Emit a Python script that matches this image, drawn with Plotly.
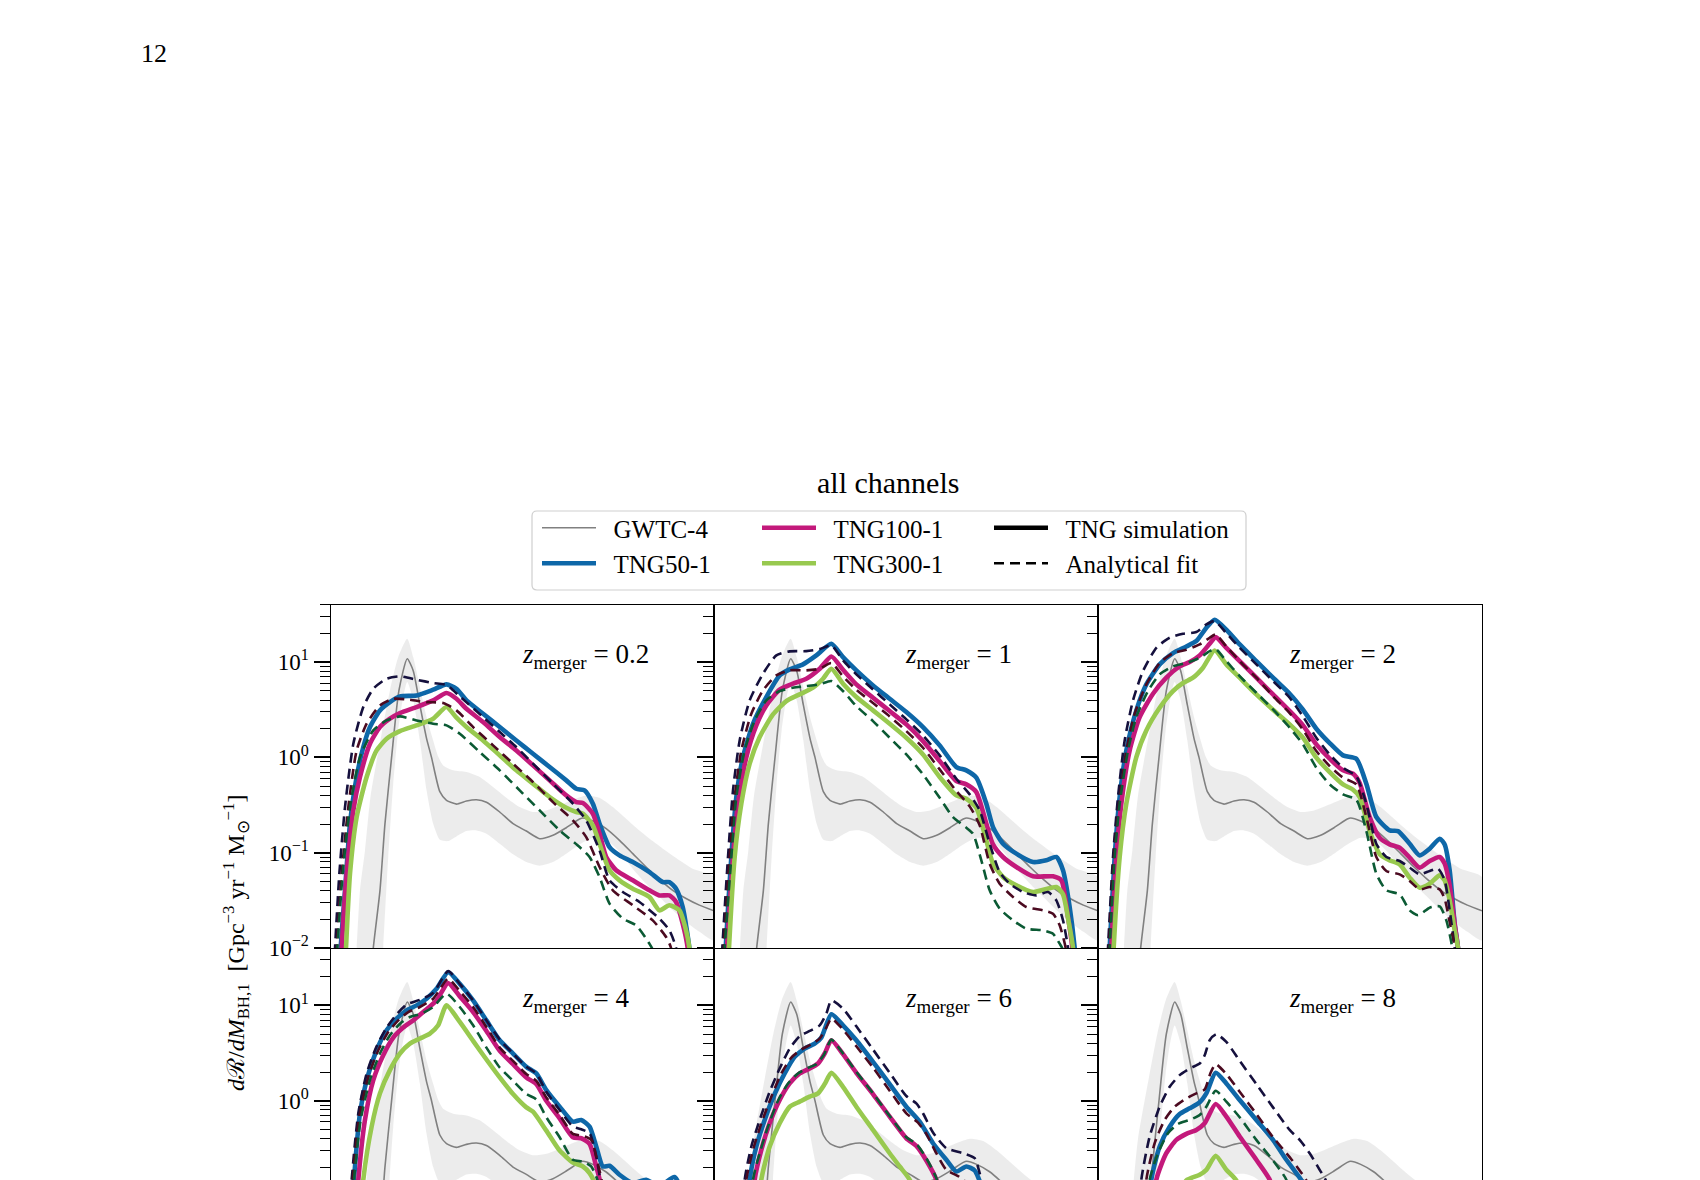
import plotly.graph_objects as go

W, H = 1700, 1180

# ------------------------------------------------------------------
# Data.  x: primary BH mass M_BH,1 [Msun]
# y: log10 of dR/dM_BH,1 [Gpc^-3 yr^-1 Msun^-1]
# ------------------------------------------------------------------
redshift_labels = ["0.2", "1", "2", "4", "6", "8"]
sim_names = ["TNG50-1", "TNG100-1", "TNG300-1"]

# GWTC-4 (same in every panel): median and 90% band
gwtc_m = [6.1, 6.4, 7.4, 8.15, 9.15, 10.25, 11.5, 12.4, 13.4, 14.4, 15.15, 16.4, 17.4, 18.9, 20.4, 21.9, 23.4,
          25.4, 27.4, 29.4, 31.4, 33.4, 35.4, 37.4, 37.9, 39.4, 41.4, 43.4, 45.4, 47.4, 49.4, 51.4, 53.4, 55.4, 57.6]
gwtc_lr = [-2.3, -2.0, -1.4, -0.7, 0.0, 0.7, 1.035, 0.91, 0.55, 0.2, 0.0, -0.36, -0.45, -0.49, -0.458, -0.444,
           -0.47, -0.573, -0.696, -0.773, -0.853, -0.818, -0.738, -0.647, -0.636, -0.668, -0.748, -0.871, -1.01,
           -1.15, -1.28, -1.395, -1.48, -1.55, -1.61]
gwtc_hi_m = [3.5, 3.9, 4.4, 5.15, 6.0, 7.65, 8.9, 10.15, 11.5, 12.4, 13.4, 14.4, 15.4, 16.15, 16.9, 18.4, 20.4,
             22.4, 24.4, 26.4, 28.4, 30.4, 32.4, 34.4, 36.4, 38.4, 40.4, 42.4, 44.4, 46.4, 48.4, 50.4, 52.4, 54.4, 57.6]
gwtc_hi_lr = [-2.5, -2.0, -1.395, -0.976, -0.40, 0.248, 0.703, 1.052, 1.245, 1.052, 0.738, 0.423, 0.178, 0.01,
              -0.084, -0.136, -0.154, -0.206, -0.311, -0.423, -0.521, -0.573, -0.556, -0.503, -0.444, -0.399,
              -0.423, -0.521, -0.643, -0.766, -0.878, -0.983, -1.08, -1.168, -1.255]
gwtc_lo_m = [7.6, 7.9, 8.65, 9.4, 10.15, 10.9, 11.5, 12.4, 13.4, 14.4, 15.4, 16.4, 17.65, 18.9, 20.4, 21.9, 23.4,
             25.4, 27.4, 29.4, 31.4, 33.4, 35.4, 37.4, 39.4, 41.4, 43.4, 45.4, 47.4, 49.4, 51.4, 53.4, 55.4, 57.6]
gwtc_lo_lr = [-2.5, -2.0, -1.045, -0.276, 0.283, 0.633, 0.79, 0.6, 0.178, -0.346, -0.696, -0.864, -0.878, -0.829,
              -0.773, -0.766, -0.80, -0.906, -1.017, -1.098, -1.136, -1.098, -1.01, -0.913, -0.843, -0.864, -0.99,
              -1.17, -1.325, -1.465, -1.605, -1.727, -1.83, -1.92]

# ---- z_merger = 0.2 ----
m_z02_tng50 = [1.3, 1.5, 2.15, 2.9, 3.9, 4.9, 5.9, 7.4, 8.9, 10.4, 12.9, 15.4, 17.4, 18.9, 20.4, 22.9, 25.4, 27.9,
               30.4, 32.9, 35.4, 36.9, 38.15, 39.4, 40.4, 41.9, 43.4, 45.4, 47.9, 49.9, 50.9, 51.9, 52.9, 53.9, 54.4]
lr_z02_tng50 = [-2.4, -2.0, -1.395, -0.696, -0.206, 0.108, 0.318, 0.493, 0.580, 0.640, 0.650, 0.710, 0.766, 0.720,
                0.598, 0.458, 0.318, 0.178, 0.038, -0.101, -0.241, -0.329, -0.346, -0.486, -0.696, -0.941, -1.028,
                -1.098, -1.203, -1.308, -1.308, -1.378, -1.570, -2.0, -2.5]
m_z02_tng100 = [1.4, 1.65, 2.4, 3.4, 4.4, 5.9, 7.4, 8.9, 10.4, 12.9, 15.4, 17.4, 18.9, 20.4, 22.9, 25.4, 27.9, 30.4,
                32.9, 35.4, 36.9, 37.9, 39.4, 40.4, 41.4, 42.9, 45.4, 47.9, 49.4, 50.9, 51.9, 52.9, 53.65, 54.15]
lr_z02_tng100 = [-2.4, -2.0, -1.220, -0.556, -0.206, 0.143, 0.318, 0.406, 0.465, 0.528, 0.598, 0.675, 0.615, 0.510,
                 0.371, 0.213, 0.073, -0.084, -0.241, -0.399, -0.469, -0.479, -0.591, -0.801, -1.045, -1.185, -1.290,
                 -1.395, -1.448, -1.448, -1.517, -1.745, -2.0, -2.5]
m_z02_tng300 = [2.05, 2.3, 2.9, 3.9, 5.4, 6.9, 8.4, 10.4, 12.9, 15.4, 17.4, 18.9, 20.4, 22.9, 25.4, 27.9, 30.4, 32.9,
                35.4, 36.9, 37.9, 39.4, 40.4, 41.9, 43.4, 45.4, 47.9, 49.4, 50.9, 52.4, 53.4, 53.9, 54.4]
lr_z02_tng300 = [-2.4, -2.0, -1.220, -0.626, -0.206, 0.073, 0.196, 0.276, 0.336, 0.406, 0.528, 0.416, 0.318, 0.178,
                 0.021, -0.136, -0.276, -0.416, -0.528, -0.573, -0.591, -0.713, -0.906, -1.185, -1.290, -1.378,
                 -1.465, -1.605, -1.552, -1.605, -1.815, -2.0, -2.5]
m_z02_fit50 = [0.4, 0.65, 1.3, 2.15, 3.4, 4.9, 6.4, 8.4, 10.4, 12.9, 15.4, 17.4, 19.4, 22.9, 25.4, 27.9, 30.4, 33.4,
               36.4, 38.4, 40.4, 41.9, 43.9, 46.4, 49.4, 50.9, 51.9, 52.4]
lr_z02_fit50 = [-2.4, -2.0, -1.22, -0.521, 0.143, 0.528, 0.720, 0.825, 0.850, 0.815, 0.780, 0.759, 0.640, 0.423,
                0.266, 0.108, -0.066, -0.276, -0.486, -0.661, -0.976, -1.290, -1.413, -1.517, -1.692, -1.815, -2.0,
                -2.4]
m_z02_fit100 = [0.65, 0.9, 1.65, 2.65, 3.9, 5.4, 7.4, 9.4, 11.9, 14.4, 16.9, 18.9, 21.4, 24.4, 27.4, 30.4, 33.4,
                36.4, 38.4, 40.4, 42.4, 45.4, 48.4, 50.4, 51.15, 51.65]
lr_z02_fit100 = [-2.4, -2.0, -1.22, -0.521, 0.073, 0.353, 0.545, 0.615, 0.605, 0.580, 0.570, 0.493, 0.318, 0.126,
                 -0.066, -0.259, -0.469, -0.661, -0.836, -1.150, -1.395, -1.552, -1.710, -1.885, -2.0, -2.4]
m_z02_fit300 = [0.75, 1.0, 1.8, 2.9, 4.4, 6.4, 8.4, 10.4, 12.9, 15.4, 17.4, 19.4, 22.4, 25.4, 28.4, 31.4, 34.4,
                37.4, 38.9, 40.4, 41.9, 43.9, 45.9, 47.9, 48.4, 49.0]
lr_z02_fit300 = [-2.4, -2.0, -1.22, -0.521, 0.003, 0.283, 0.388, 0.430, 0.388, 0.353, 0.336, 0.248, 0.056, -0.136,
                 -0.346, -0.556, -0.766, -0.941, -1.045, -1.255, -1.535, -1.692, -1.762, -1.955, -2.02, -2.4]

# ---- z_merger = 1 ----
m_z1_tng50 = [1.5, 1.75, 2.6, 3.35, 4.35, 5.85, 7.85, 9.85, 11.35, 13.35, 15.35, 17.6, 19.35, 21.35, 23.85, 26.35,
              28.85, 31.35, 33.85, 36.35, 37.85, 39.35, 40.85, 41.85, 43.35, 45.35, 47.85, 49.85, 51.35, 52.35,
              53.35, 54.1, 54.6]
lr_z1_tng50 = [-2.4, -2.0, -1.045, -0.416, 0.003, 0.353, 0.633, 0.860, 0.923, 0.976, 1.070, 1.192, 1.052, 0.913,
               0.755, 0.615, 0.476, 0.318, 0.126, -0.101, -0.136, -0.213, -0.486, -0.731, -0.906, -1.010, -1.098,
               -1.080, -1.045, -1.185, -1.570, -2.0, -2.5]
m_z1_tng100 = [1.7, 1.95, 2.85, 3.6, 4.85, 6.35, 7.85, 9.85, 11.85, 13.85, 15.85, 17.6, 19.35, 21.35, 23.85, 26.35,
               28.85, 31.35, 33.85, 36.35, 37.85, 39.35, 40.85, 41.85, 43.35, 45.35, 47.85, 50.85, 52.1, 53.1,
               53.75, 54.25]
lr_z1_tng100 = [-2.4, -2.0, -1.045, -0.486, 0.003, 0.336, 0.545, 0.710, 0.773, 0.825, 0.930, 1.059, 0.920, 0.766,
                0.626, 0.486, 0.346, 0.171, -0.038, -0.248, -0.283, -0.364, -0.696, -0.913, -1.045, -1.150, -1.248,
                -1.248, -1.290, -1.675, -2.0, -2.5]
m_z1_tng300 = [2.0, 2.25, 3.1, 4.1, 5.35, 6.85, 8.85, 10.85, 12.85, 14.85, 16.35, 17.6, 19.35, 21.35, 23.85, 26.35,
               28.85, 31.35, 33.85, 36.35, 37.85, 39.35, 40.85, 41.85, 43.35, 45.35, 47.85, 51.35, 52.35, 53.25,
               53.85, 54.35]
lr_z1_tng300 = [-2.4, -2.0, -1.045, -0.486, -0.066, 0.213, 0.451, 0.591, 0.661, 0.731, 0.825, 0.930, 0.773, 0.633,
                0.493, 0.353, 0.206, 0.031, -0.206, -0.399, -0.434, -0.528, -0.871, -1.115, -1.255, -1.343, -1.413,
                -1.360, -1.437, -1.745, -2.0, -2.5]
m_z1_fit50 = [1.0, 1.25, 2.1, 2.85, 3.85, 5.35, 7.35, 9.35, 11.35, 13.85, 15.85, 17.6, 19.35, 21.35, 23.85, 26.35,
              28.85, 31.35, 33.85, 36.35, 38.35, 39.85, 41.35, 42.85, 44.35, 46.35, 48.35, 50.1, 51.35, 52.35,
              53.1, 53.6]
lr_z1_fit50 = [-2.4, -2.0, -1.045, -0.346, 0.178, 0.598, 0.878, 1.070, 1.112, 1.115, 1.136, 1.175, 1.017, 0.871,
               0.713, 0.556, 0.399, 0.231, 0.021, -0.224, -0.388, -0.556, -0.906, -1.203, -1.325, -1.413, -1.448,
               -1.413, -1.500, -1.710, -2.0, -2.4]
m_z1_fit100 = [1.2, 1.45, 2.35, 3.1, 4.1, 5.6, 7.35, 9.35, 11.35, 13.85, 15.85, 17.6, 19.35, 21.35, 23.85, 26.35,
               28.85, 31.35, 33.85, 36.35, 38.35, 39.85, 41.35, 42.85, 44.85, 46.85, 49.35, 50.85, 51.85, 52.75,
               53.25]
lr_z1_fit100 = [-2.4, -2.0, -1.045, -0.416, 0.073, 0.458, 0.703, 0.860, 0.913, 0.913, 0.930, 0.990, 0.850, 0.710,
                0.570, 0.430, 0.276, 0.101, -0.126, -0.353, -0.514, -0.713, -1.115, -1.325, -1.465, -1.570, -1.605,
                -1.640, -1.762, -2.0, -2.4]
m_z1_fit300 = [1.35, 1.6, 2.6, 3.35, 4.6, 6.1, 7.85, 9.85, 11.85, 13.85, 15.85, 17.6, 19.35, 21.35, 23.85, 26.35,
               28.85, 31.35, 33.85, 35.85, 37.85, 38.85, 40.1, 41.35, 42.85, 44.85, 46.85, 49.35, 50.85, 51.85,
               52.35, 52.85]
lr_z1_fit300 = [-2.4, -2.0, -1.045, -0.416, 0.073, 0.388, 0.598, 0.696, 0.731, 0.748, 0.766, 0.801, 0.696, 0.538,
                0.381, 0.206, 0.031, -0.178, -0.423, -0.626, -0.738, -0.801, -1.080, -1.395, -1.587, -1.710, -1.797,
                -1.815, -1.850, -1.955, -2.02, -2.4]

# ---- z_merger = 2 ----
m_z2_tng50 = [1.5, 1.75, 2.5, 3.25, 4.25, 5.75, 7.25, 9.25, 11.25, 13.25, 14.75, 16.25, 17.5, 19.25, 21.25, 23.75,
              26.25, 28.75, 30.75, 32.75, 34.75, 36.75, 38.75, 40.25, 41.75, 43.75, 45.0, 46.75, 48.25, 49.75,
              51.25, 52.0, 52.75, 53.5, 54.0, 54.5]
lr_z2_tng50 = [-2.4, -2.0, -1.045, -0.416, 0.073, 0.493, 0.766, 0.976, 1.094, 1.164, 1.220, 1.360, 1.444, 1.339,
               1.185, 1.010, 0.836, 0.668, 0.500, 0.301, 0.150, 0.021, -0.014, -0.276, -0.626, -0.766, -0.773,
               -0.906, -1.028, -0.958, -0.853, -0.913, -1.185, -1.745, -2.0, -2.5]
m_z2_tng100 = [1.75, 2.0, 2.75, 3.5, 4.75, 6.25, 8.25, 10.25, 12.25, 13.75, 15.25, 16.75, 17.65, 19.25, 21.25,
               23.75, 26.25, 28.75, 30.75, 32.75, 34.75, 36.75, 38.25, 39.25, 40.75, 42.25, 43.75, 45.25, 46.75,
               48.25, 49.75, 51.25, 52.0, 52.75, 53.5, 54.0, 54.5]
lr_z2_tng100 = [-2.4, -2.0, -1.045, -0.486, 0.073, 0.423, 0.668, 0.836, 0.955, 1.000, 1.070, 1.192, 1.262, 1.150,
                1.010, 0.836, 0.661, 0.486, 0.336, 0.136, -0.014, -0.136, -0.171, -0.269, -0.626, -0.843, -0.913,
                -0.948, -1.052, -1.157, -1.087, -1.045, -1.115, -1.343, -1.745, -2.0, -2.5]
m_z2_tng300 = [2.1, 2.35, 3.25, 4.25, 5.75, 7.25, 9.25, 11.25, 12.75, 14.25, 15.75, 17.5, 19.25, 21.25, 23.75,
               26.25, 28.75, 30.75, 32.75, 34.75, 36.75, 38.25, 39.25, 40.75, 42.25, 43.75, 45.25, 46.75, 48.25,
               49.75, 51.25, 52.0, 52.75, 53.5, 54.0, 54.5]
lr_z2_tng300 = [-2.4, -2.0, -1.045, -0.486, 0.003, 0.283, 0.521, 0.696, 0.780, 0.836, 0.941, 1.122, 0.976, 0.836,
                0.661, 0.500, 0.346, 0.206, -0.003, -0.154, -0.283, -0.339, -0.416, -0.773, -1.017, -1.080, -1.122,
                -1.262, -1.367, -1.325, -1.238, -1.290, -1.500, -1.815, -2.0, -2.5]
m_z2_fit50 = [1.25, 1.5, 2.25, 3.0, 4.0, 5.25, 6.75, 8.75, 10.75, 12.75, 14.75, 16.25, 17.5, 19.25, 21.25, 23.75,
              26.25, 28.75, 30.75, 32.75, 34.75, 36.75, 38.75, 40.25, 41.75, 43.25, 45.25, 46.75, 48.25, 49.75,
              51.0, 52.0, 52.75, 53.5, 54.0]
lr_z2_fit50 = [-2.4, -2.0, -1.045, -0.416, 0.178, 0.598, 0.906, 1.150, 1.255, 1.297, 1.315, 1.395, 1.430, 1.304,
               1.150, 0.976, 0.801, 0.626, 0.430, 0.206, 0.031, -0.108, -0.199, -0.486, -0.906, -1.045, -1.087,
               -1.157, -1.227, -1.192, -1.168, -1.290, -1.605, -2.0, -2.4]
m_z2_fit100 = [1.4, 1.65, 2.4, 3.15, 4.25, 5.5, 7.25, 9.25, 11.25, 13.25, 15.25, 16.75, 17.65, 19.25, 21.25, 23.75,
               26.25, 28.75, 30.75, 32.75, 34.75, 36.75, 38.75, 40.25, 41.75, 43.25, 45.25, 46.75, 48.25, 49.75,
               51.25, 52.0, 52.75, 53.5, 54.0]
lr_z2_fit100 = [-2.4, -2.0, -1.045, -0.486, 0.073, 0.458, 0.766, 0.990, 1.094, 1.129, 1.185, 1.255, 1.290, 1.164,
                1.010, 0.836, 0.643, 0.465, 0.290, 0.066, -0.091, -0.213, -0.283, -0.626, -1.045, -1.192, -1.227,
                -1.297, -1.385, -1.360, -1.385, -1.483, -1.727, -2.0, -2.4]
m_z2_fit300 = [1.5, 1.75, 2.5, 3.25, 4.5, 5.75, 7.5, 9.25, 11.25, 13.25, 15.25, 16.75, 17.65, 19.25, 21.25, 23.75,
               26.25, 28.75, 30.75, 32.75, 34.75, 36.75, 38.75, 40.25, 41.75, 43.25, 45.25, 46.75, 48.0, 49.75,
               51.25, 52.25, 53.15, 53.75]
lr_z2_fit300 = [-2.4, -2.0, -1.045, -0.486, 0.073, 0.423, 0.696, 0.871, 0.955, 0.990, 1.045, 1.115, 1.136, 1.010,
                0.853, 0.678, 0.503, 0.311, 0.136, -0.108, -0.283, -0.388, -0.444, -0.773, -1.220, -1.395, -1.437,
                -1.605, -1.657, -1.577, -1.563, -1.710, -2.0, -2.4]

# ---- z_merger = 4 ----
m_z4_tng50 = [2.5, 3.5, 4.4, 5.4, 6.9, 8.4, 9.9, 11.4, 12.9, 14.4, 15.9, 17.65, 19.4, 21.4, 23.4, 25.4, 27.4, 29.4,
              30.9, 32.4, 34.4, 36.4, 37.65, 38.9, 39.9, 40.9, 41.9, 43.4, 45.4, 47.4, 49.4, 51.65, 52.9, 53.9, 54.4]
lr_z4_tng50 = [-2.0, -0.829, -0.132, 0.216, 0.530, 0.739, 0.861, 0.948, 1.0, 1.070, 1.174, 1.348, 1.226, 1.052,
               0.843, 0.634, 0.495, 0.355, 0.286, 0.111, -0.063, -0.220, -0.202, -0.272, -0.481, -0.690, -0.683,
               -0.777, -0.864, -0.829, -0.899, -0.801, -0.969, -1.456, -2.2]
m_z4_tng100 = [3.0, 4.15, 5.15, 6.4, 7.9, 9.4, 10.9, 12.4, 13.9, 15.9, 17.65, 19.4, 21.4, 23.4, 25.4, 27.4, 29.4,
               30.9, 32.4, 34.4, 36.4, 37.65, 38.9, 39.9, 40.65, 41.4, 42.0]
lr_z4_tng100 = [-2.0, -0.829, -0.202, 0.216, 0.477, 0.662, 0.767, 0.843, 0.930, 1.052, 1.233, 1.094, 0.930, 0.732,
                0.523, 0.383, 0.244, 0.174, 0.0, -0.185, -0.383, -0.394, -0.453, -0.690, -0.899, -1.28, -2.0]
m_z4_tng300 = [3.6, 4.9, 6.15, 7.4, 8.9, 10.4, 11.9, 13.4, 14.9, 16.15, 17.4, 19.4, 21.4, 23.4, 25.4, 27.4, 29.4,
               30.4, 32.4, 34.4, 36.4, 37.9, 38.9, 39.65, 40.4, 41.25]
lr_z4_tng300 = [-2.0, -0.829, -0.272, 0.077, 0.321, 0.495, 0.599, 0.652, 0.704, 0.791, 1.0, 0.826, 0.627, 0.432,
                0.244, 0.070, -0.070, -0.115, -0.314, -0.523, -0.648, -0.690, -0.760, -0.864, -1.18, -2.0]
m_z4_fit50 = [2.1, 3.15, 4.15, 5.4, 6.9, 8.4, 9.9, 11.4, 13.4, 15.4, 17.65, 19.4, 21.4, 23.4, 25.4, 27.4, 29.4,
              30.9, 32.4, 34.4, 36.4, 37.65, 38.9, 39.9, 40.65, 41.15, 41.75]
lr_z4_fit50 = [-2.0, -0.829, -0.132, 0.286, 0.571, 0.767, 0.906, 1.010, 1.059, 1.129, 1.359, 1.226, 1.052, 0.843,
               0.641, 0.495, 0.355, 0.286, 0.094, -0.098, -0.272, -0.300, -0.341, -0.585, -0.899, -1.28, -2.0]
m_z4_fit100 = [2.25, 3.3, 4.3, 5.65, 7.15, 8.65, 10.15, 11.65, 13.4, 15.4, 17.65, 19.4, 21.4, 23.4, 25.4, 27.4,
               29.4, 30.9, 32.4, 34.4, 36.4, 37.9, 39.15, 40.15, 40.9, 41.4, 42.0]
lr_z4_fit100 = [-2.0, -0.829, -0.167, 0.251, 0.530, 0.721, 0.843, 0.930, 0.983, 1.070, 1.279, 1.150, 0.983, 0.774,
                0.557, 0.418, 0.279, 0.209, 0.035, -0.150, -0.348, -0.369, -0.411, -0.662, -0.899, -1.28, -2.0]
m_z4_fit300 = [2.4, 3.5, 4.5, 5.9, 7.4, 8.9, 10.4, 11.9, 13.65, 15.4, 17.4, 19.4, 21.4, 23.4, 25.4, 27.4, 29.4,
               30.9, 32.4, 34.4, 36.4, 37.9, 39.15, 40.15, 40.9, 41.5]
lr_z4_fit300 = [-2.0, -0.829, -0.202, 0.216, 0.495, 0.686, 0.808, 0.878, 0.913, 0.983, 1.122, 0.983, 0.791, 0.557,
                0.348, 0.209, 0.070, 0.014, -0.174, -0.383, -0.620, -0.638, -0.690, -0.847, -1.25, -2.0]

# ---- z_merger = 6 ----
m_z6_tng50 = [4.25, 5.35, 6.35, 7.6, 9.1, 10.6, 12.1, 13.6, 15.1, 16.1, 17.6, 19.35, 21.35, 23.85, 26.35, 28.85,
              30.85, 32.85, 34.85, 36.35, 37.85, 39.1, 40.1, 40.85, 41.5]
lr_z6_tng50 = [-2.0, -0.829, -0.481, -0.202, 0.070, 0.286, 0.460, 0.547, 0.599, 0.662, 0.906, 0.791, 0.634, 0.408,
               0.174, -0.063, -0.220, -0.446, -0.620, -0.742, -0.690, -0.732, -0.899, -1.39, -2.0]
m_z6_tng100 = [5.0, 6.1, 7.1, 8.35, 9.85, 11.35, 12.85, 14.35, 15.6, 16.6, 17.6, 19.35, 21.35, 23.85, 26.35, 28.85,
               30.35, 31.85, 33.35, 34.6, 35.25]
lr_z6_tng100 = [-2.0, -0.829, -0.516, -0.237, 0.007, 0.181, 0.286, 0.338, 0.390, 0.495, 0.634, 0.488, 0.293, 0.070,
                -0.167, -0.394, -0.474, -0.627, -0.829, -1.21, -2.0]
m_z6_tng300 = [6.0, 7.1, 8.35, 9.85, 11.35, 12.85, 14.35, 15.6, 16.6, 17.6, 19.35, 21.35, 23.85, 26.35, 27.85,
               29.35, 30.85, 31.5]
lr_z6_tng300 = [-2.0, -0.829, -0.481, -0.237, -0.063, -0.010, 0.042, 0.077, 0.174, 0.293, 0.146, -0.063, -0.307,
                -0.551, -0.690, -0.829, -1.18, -2.0]
m_z6_fit50 = [3.5, 4.6, 5.6, 6.85, 8.35, 9.85, 11.35, 12.85, 14.35, 15.85, 16.85, 17.6, 19.35, 21.35, 23.85, 26.35,
              28.85, 30.35, 31.35, 32.85, 34.85, 37.35, 39.1, 39.85, 40.6, 41.35, 42.0]
lr_z6_fit50 = [-2.0, -0.829, -0.481, -0.202, 0.094, 0.338, 0.547, 0.676, 0.732, 0.791, 0.913, 1.052, 0.965, 0.780,
               0.537, 0.293, 0.049, -0.028, -0.132, -0.334, -0.498, -0.551, -0.603, -0.760, -0.969, -1.456, -2.0]
m_z6_fit100 = [3.75, 4.85, 5.85, 7.1, 8.6, 10.1, 11.6, 13.1, 14.6, 15.85, 16.85, 17.6, 19.35, 21.35, 23.85, 26.35,
               28.85, 30.6, 31.85, 33.35, 34.85, 36.85, 37.85, 38.85, 39.5]
lr_z6_fit100 = [-2.0, -0.829, -0.516, -0.237, 0.042, 0.286, 0.453, 0.537, 0.592, 0.652, 0.767, 0.861, 0.746, 0.571,
                0.348, 0.105, -0.132, -0.230, -0.348, -0.551, -0.725, -0.801, -0.864, -1.28, -2.0]
m_z6_fit300 = [4.75, 5.85, 6.85, 8.1, 9.6, 11.1, 12.6, 14.1, 15.35, 16.45, 17.6, 19.35, 21.35, 23.85, 26.35, 28.85,
               30.35, 31.85, 33.35, 34.6, 35.25]
lr_z6_fit300 = [-2.0, -0.829, -0.551, -0.272, 0.0, 0.181, 0.286, 0.345, 0.383, 0.477, 0.641, 0.495, 0.303, 0.077,
                -0.160, -0.383, -0.453, -0.603, -0.812, -1.18, -2.0]

# ---- z_merger = 8 ----
m_z8_tng50 = [6.9, 8.0, 9.25, 10.75, 12.25, 13.75, 15.25, 16.25, 17.65, 19.25, 21.25, 23.75, 26.25, 28.25, 29.75,
              30.75, 31.75, 32.5]
lr_z8_tng50 = [-2.0, -0.829, -0.481, -0.272, -0.139, -0.080, -0.017, 0.077, 0.293, 0.181, 0.007, -0.202, -0.411,
               -0.620, -0.760, -0.864, -1.21, -2.0]
m_z8_tng100 = [7.6, 8.75, 10.25, 11.75, 13.25, 14.75, 16.0, 17.65, 19.25, 21.25, 23.75, 25.75, 27.0, 27.75]
lr_z8_tng100 = [-2.0, -0.829, -0.551, -0.411, -0.348, -0.307, -0.237, -0.035, -0.167, -0.376, -0.620, -0.829,
                -1.18, -2.0]
m_z8_tng300 = [7.5, 10.0, 12.25, 13.25, 15.25, 16.25, 17.65, 19.25, 20.75, 22.25, 24.0]
lr_z8_tng300 = [-2.0, -1.3, -0.969, -0.836, -0.777, -0.725, -0.578, -0.725, -0.836, -1.108, -1.6]
m_z8_fit50 = [5.4, 6.5, 7.75, 9.25, 10.75, 12.25, 13.75, 15.25, 16.0, 16.75, 17.75, 19.25, 21.25, 23.75, 26.25,
              28.75, 30.25, 31.75, 33.25, 34.25, 35.0, 35.75]
lr_z8_fit50 = [-2.0, -0.829, -0.376, -0.063, 0.146, 0.268, 0.338, 0.390, 0.477, 0.634, 0.697, 0.617, 0.418, 0.174,
               -0.070, -0.307, -0.411, -0.551, -0.725, -0.847, -1.18, -2.0]
m_z8_fit100 = [6.1, 7.25, 8.5, 10.0, 11.5, 13.25, 14.75, 16.0, 16.85, 17.65, 19.25, 21.25, 23.75, 26.25, 28.75,
               30.25, 31.25, 32.25, 33.0]
lr_z8_fit100 = [-2.0, -0.829, -0.446, -0.202, -0.063, 0.024, 0.077, 0.118, 0.286, 0.383, 0.279, 0.094, -0.139,
                -0.383, -0.592, -0.732, -0.836, -1.18, -2.0]
m_z8_fit300 = [6.6, 7.75, 9.0, 10.5, 12.0, 13.75, 15.25, 16.25, 17.65, 19.25, 21.25, 23.75, 26.25, 28.25, 29.5,
               30.25]
lr_z8_fit300 = [-2.0, -0.829, -0.551, -0.341, -0.244, -0.202, -0.150, -0.063, 0.105, -0.010, -0.174, -0.411,
                -0.627, -0.829, -1.18, -2.0]

# y-axis tick labels
major_ticks = [0.01, 0.1, 1, 10]
major_labels = ["10<sup>−2</sup>", "10<sup>−1</sup>", "10<sup>0</sup>", "10<sup>1</sup>"]

# ------------------------------------------------------------------
sim_curves = [
    [(m_z02_tng50, lr_z02_tng50), (m_z02_tng100, lr_z02_tng100), (m_z02_tng300, lr_z02_tng300)],
    [(m_z1_tng50, lr_z1_tng50), (m_z1_tng100, lr_z1_tng100), (m_z1_tng300, lr_z1_tng300)],
    [(m_z2_tng50, lr_z2_tng50), (m_z2_tng100, lr_z2_tng100), (m_z2_tng300, lr_z2_tng300)],
    [(m_z4_tng50, lr_z4_tng50), (m_z4_tng100, lr_z4_tng100), (m_z4_tng300, lr_z4_tng300)],
    [(m_z6_tng50, lr_z6_tng50), (m_z6_tng100, lr_z6_tng100), (m_z6_tng300, lr_z6_tng300)],
    [(m_z8_tng50, lr_z8_tng50), (m_z8_tng100, lr_z8_tng100), (m_z8_tng300, lr_z8_tng300)],
]
fit_curves = [
    [(m_z02_fit50, lr_z02_fit50), (m_z02_fit100, lr_z02_fit100), (m_z02_fit300, lr_z02_fit300)],
    [(m_z1_fit50, lr_z1_fit50), (m_z1_fit100, lr_z1_fit100), (m_z1_fit300, lr_z1_fit300)],
    [(m_z2_fit50, lr_z2_fit50), (m_z2_fit100, lr_z2_fit100), (m_z2_fit300, lr_z2_fit300)],
    [(m_z4_fit50, lr_z4_fit50), (m_z4_fit100, lr_z4_fit100), (m_z4_fit300, lr_z4_fit300)],
    [(m_z6_fit50, lr_z6_fit50), (m_z6_fit100, lr_z6_fit100), (m_z6_fit300, lr_z6_fit300)],
    [(m_z8_fit50, lr_z8_fit50), (m_z8_fit100, lr_z8_fit100), (m_z8_fit300, lr_z8_fit300)],
]

SIM_COLORS = ["#0e67a8", "#c3197b", "#98c94f"]
FIT_COLORS = ["#15103d", "#4b0a20", "#0b5a34"]
GREY = "#808080"
FONT = "Liberation Serif, Times New Roman, serif"
PAD = "\u00a0\u00a0"   # gap between legend sample and label


def lin(vals):
    return [10 ** v for v in vals]


fig = go.Figure()

for p in range(6):
    sfx = "" if p == 0 else str(p + 1)
    xa, ya = "x" + sfx, "y" + sfx
    # GWTC-4 band
    fig.add_trace(go.Scatter(
        x=gwtc_hi_m + gwtc_lo_m[::-1], y=lin(gwtc_hi_lr + gwtc_lo_lr[::-1]),
        fill="toself", fillcolor="rgba(0,0,0,0.075)", mode="lines",
        line=dict(width=0, shape="spline", smoothing=0.6),
        xaxis=xa, yaxis=ya, showlegend=False, hoverinfo="skip"))
    # GWTC-4 median
    fig.add_trace(go.Scatter(
        x=gwtc_m, y=lin(gwtc_lr), mode="lines", name=PAD + "GWTC-4",
        line=dict(color=GREY, width=1.6, shape="spline", smoothing=0.6),
        xaxis=xa, yaxis=ya, showlegend=(p == 0), legend="legend", legendgroup="gwtc"))
    # simulations
    for k in range(3):
        mx, ly = sim_curves[p][k]
        leg = "legend" if k == 0 else "legend2"
        fig.add_trace(go.Scatter(
            x=mx, y=lin(ly), mode="lines", name=PAD + sim_names[k],
            line=dict(color=SIM_COLORS[k], width=4.6, shape="spline", smoothing=0.6),
            xaxis=xa, yaxis=ya, showlegend=(p == 0), legend=leg, legendgroup=sim_names[k]))
    # analytical fits
    for k in range(3):
        mx, ly = fit_curves[p][k]
        fig.add_trace(go.Scatter(
            x=mx, y=lin(ly), mode="lines", name=sim_names[k] + " fit",
            line=dict(color=FIT_COLORS[k], width=2.6, dash="10px,6px", shape="spline", smoothing=0.6),
            xaxis=xa, yaxis=ya, showlegend=False))

# legend-only entries for the line styles
fig.add_trace(go.Scatter(x=[None], y=[None], mode="lines", name=PAD + "TNG simulation",
                         line=dict(color="black", width=4.6), legend="legend3", legendgroup="sim"))
fig.add_trace(go.Scatter(x=[None], y=[None], mode="lines", name=PAD + "Analytical fit",
                         line=dict(color="black", width=2.6, dash="10px,6px"), legend="legend3",
                         legendgroup="fit"))

# ---------------- axes ----------------
XL = [330.7, 714.0, 1098.0]
XR = [714.0, 1098.0, 1482.0]
Y_SPLIT = (H - 948.0) / H
Y_TOP = (H - 604.7) / H
minor_vals = [k * 10.0 ** e for e in (-2, -1, 0) for k in range(2, 10)] + [20, 30, 40]

layout = dict(
    width=W, height=H, margin=dict(l=0, r=0, t=0, b=0, autoexpand=False),
    paper_bgcolor="white", plot_bgcolor="rgba(0,0,0,0)",
    font=dict(family=FONT, color="black", size=20),
)
for p in range(6):
    row, col = divmod(p, 3)
    sfx = "" if p == 0 else str(p + 1)
    layout["xaxis" + sfx] = dict(
        domain=[XL[col] / W, XR[col] / W], range=[0, 57.6], anchor="y" + sfx, automargin=False,
        showgrid=False, zeroline=False, showticklabels=False, ticks="",
        showline=(row == 0), mirror=True, linecolor="black", linewidth=1.4)
    layout["yaxis" + sfx] = dict(
        domain=[Y_SPLIT, Y_TOP] if row == 0 else [0.0, Y_SPLIT], automargin=False,
        type="log", range=[-2, 1.602] if row == 0 else [-0.832, 1.602], anchor="x" + sfx,
        showgrid=False, zeroline=False,
        tickmode="array", tickvals=major_ticks, ticktext=major_labels,
        showticklabels=(col == 0), tickfont=dict(family=FONT, size=23, color="black"),
        ticks="outside", ticklen=16, tickwidth=2.4, tickcolor="black",
        minor=dict(tickmode="array", tickvals=minor_vals, ticks="outside", ticklen=10,
                   tickwidth=1.4, tickcolor="black", showgrid=False),
        showline=True, mirror=True, linecolor="black", linewidth=1.4)

legend_common = dict(bgcolor="rgba(0,0,0,0)", borderwidth=0, orientation="v",
                     font=dict(family=FONT, size=25, color="black"),
                     itemwidth=54, tracegroupgap=0, xanchor="left", yanchor="top",
                     itemclick=False, itemdoubleclick=False)
LEG_Y = (H - 505) / H
layout["legend"] = dict(legend_common, x=537 / W, y=LEG_Y)
layout["legend2"] = dict(legend_common, x=757 / W, y=LEG_Y)
layout["legend3"] = dict(legend_common, x=989 / W, y=LEG_Y)

# legend frame (rounded rectangle)
bx0, bx1 = 532 / W, 1246 / W
by1, by0 = (H - 511) / H, (H - 590) / H
rx, ry = 5 / W, 5 / H
frame = (f"M{bx0 + rx},{by1} L{bx1 - rx},{by1} Q{bx1},{by1} {bx1},{by1 - ry} "
         f"L{bx1},{by0 + ry} Q{bx1},{by0} {bx1 - rx},{by0} L{bx0 + rx},{by0} "
         f"Q{bx0},{by0} {bx0},{by0 + ry} L{bx0},{by1 - ry} Q{bx0},{by1} {bx0 + rx},{by1} Z")
layout["shapes"] = [dict(type="path", xref="paper", yref="paper", path=frame,
                         line=dict(color="#cfcfcf", width=1.2), fillcolor="rgba(255,255,255,0.8)",
                         layer="below")]

ann = []
ann.append(dict(text="12", x=154 / W, y=(H - 54) / H, xref="paper", yref="paper", showarrow=False,
                xanchor="center", yanchor="middle", font=dict(family=FONT, size=26, color="black")))
ann.append(dict(text="all channels", x=888 / W, y=(H - 482) / H, xref="paper", yref="paper",
                showarrow=False, xanchor="center", yanchor="middle",
                font=dict(family=FONT, size=30, color="black")))
ann.append(dict(text="<i>d</i>ℛ/<i>dM</i><sub>BH,1</sub>  [Gpc<sup>−3</sup> yr<sup>−1</sup> "
                     "M<sub>⊙</sub><sup>−1</sup>]",
                x=236 / W, y=(H - 943) / H, xref="paper", yref="paper", showarrow=False, textangle=-90,
                xanchor="center", yanchor="middle", font=dict(family=FONT, size=24, color="black")))
for p in range(6):
    row, col = divmod(p, 3)
    ycen = 656 if row == 0 else 1000
    ann.append(dict(text=f"<i>z</i><sub>merger</sub> = {redshift_labels[p]}",
                    x=(XL[col] + 189) / W, y=(H - ycen) / H, xref="paper", yref="paper",
                    showarrow=False, xanchor="left", yanchor="middle",
                    font=dict(family=FONT, size=27, color="black")))
layout["annotations"] = ann

fig.update_layout(**layout)
fig.write_html("out.html")
